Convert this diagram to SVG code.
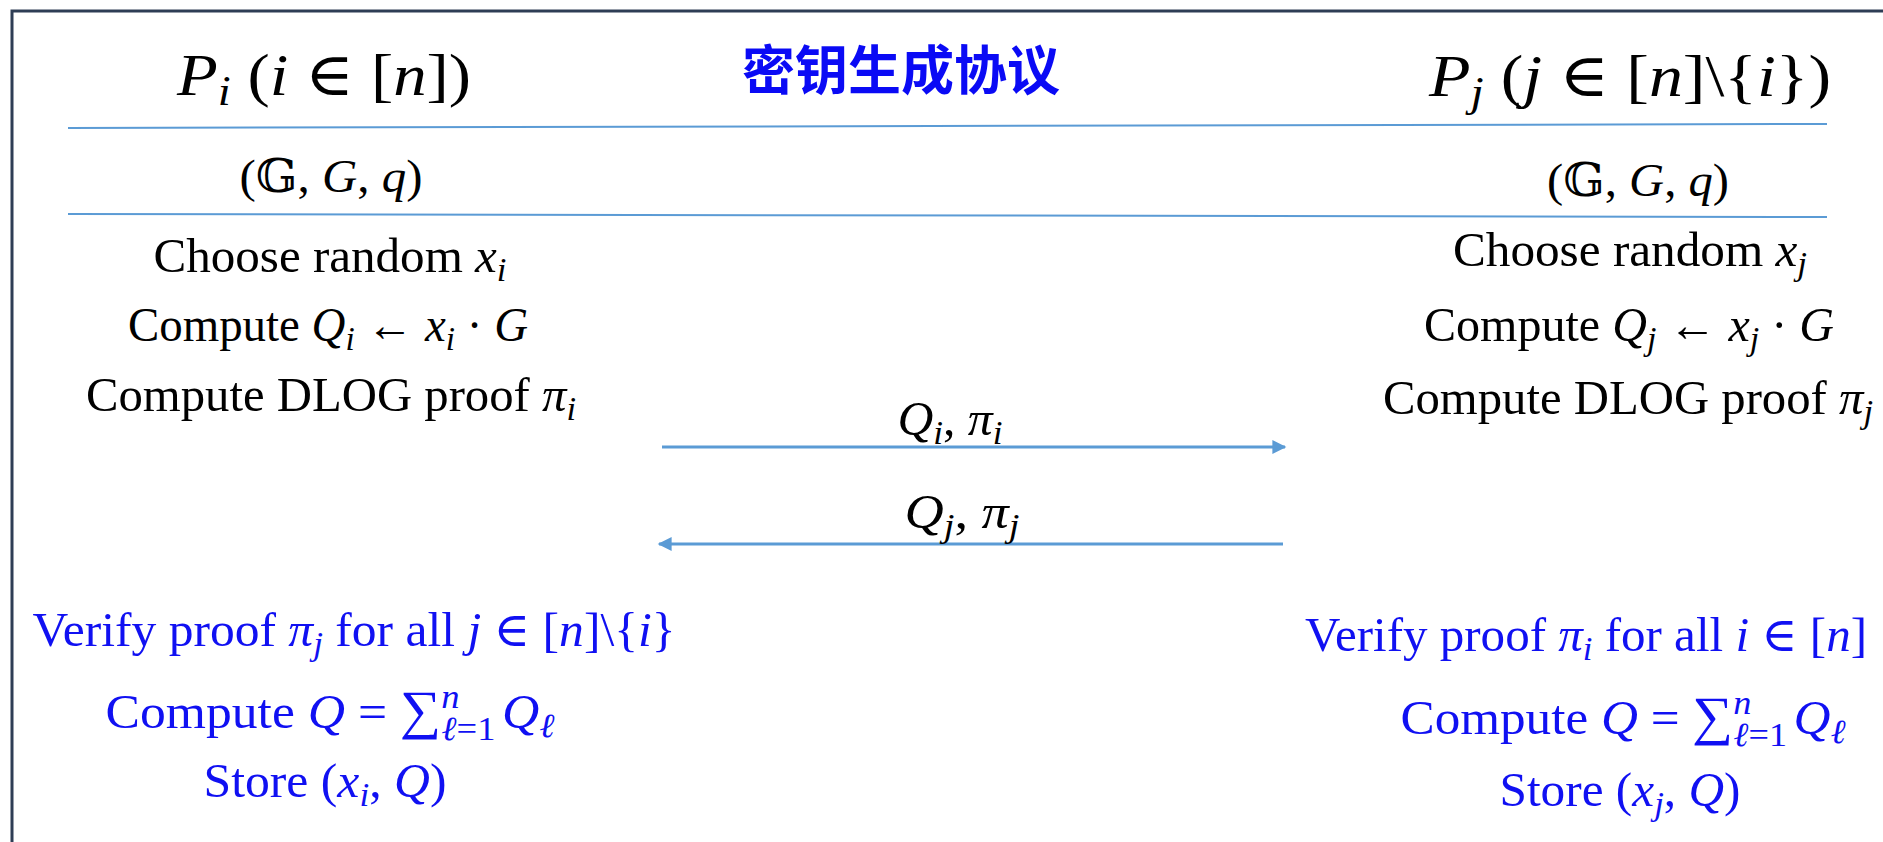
<svg xmlns="http://www.w3.org/2000/svg" width="1883" height="842" viewBox="0 0 1883 842">
<defs>
<marker id="ah" viewBox="0 0 10 10" refX="9" refY="5" markerWidth="16" markerHeight="14" orient="auto-start-reverse" markerUnits="userSpaceOnUse">
<path d="M0,0 L10,5 L0,10 Z" fill="#5b9bd5"/>
</marker>
<style>
.t{font-family:"Liberation Serif","DejaVu Serif",serif;font-size:48px;text-anchor:middle;fill:#000}
.h{font-size:60px}
.g{font-size:46px}
.b{fill:#1010f2}
.m{font-style:italic}
.s{font-size:34px}
.sep{stroke:#5b9bd5;stroke-width:2;fill:none}
.arr{stroke:#5b9bd5;stroke-width:3;fill:none}
.title{font-family:"Noto Sans CJK SC","Noto Sans CJK TC",sans-serif;font-size:53px;font-weight:700;fill:#0a0af5;text-anchor:middle}
</style>
</defs>
<rect width="1883" height="842" fill="#fff"/>
<path d="M12,842 L12,11 L1883,11" fill="none" stroke="#2e3d55" stroke-width="3"/>
<g id="separators">
<line class="sep" x1="68" y1="128" x2="1827" y2="124"/>
<line class="sep" x1="68" y1="214" x2="1827" y2="217"/>
</g>
<g id="title"><text class="title" x="901" y="90">密钥生成协议</text></g>
<g id="party-i">
<text class="t h" x="324" y="95" textLength="294" lengthAdjust="spacingAndGlyphs"><tspan class="m">P</tspan><tspan class="m" font-size="42" dy="10">i</tspan><tspan dy="-10"> (</tspan><tspan class="m">i</tspan> ∈ [<tspan class="m">n</tspan>])</text>
<text class="t g" x="331" y="192" textLength="183" lengthAdjust="spacingAndGlyphs">(𝔾, <tspan class="m">G</tspan>, <tspan class="m">q</tspan>)</text>
<text class="t" x="330" y="272" textLength="353" lengthAdjust="spacingAndGlyphs">Choose random <tspan class="m">x</tspan><tspan class="m s" dy="9">i</tspan></text>
<text class="t" x="328" y="341" textLength="400" lengthAdjust="spacingAndGlyphs">Compute <tspan class="m">Q</tspan><tspan class="m s" dy="9">i</tspan><tspan dy="-9"> ← </tspan><tspan class="m">x</tspan><tspan class="m s" dy="9">i</tspan><tspan dy="-9"> · </tspan><tspan class="m">G</tspan></text>
<text class="t" x="331" y="411" textLength="490" lengthAdjust="spacingAndGlyphs">Compute DLOG proof <tspan class="m">π</tspan><tspan class="m s" dy="9">i</tspan></text>
<text class="t b" x="354" y="646" textLength="643" lengthAdjust="spacingAndGlyphs">Verify proof <tspan class="m">π</tspan><tspan class="m s" dy="9">j</tspan><tspan dy="-9"> for all </tspan><tspan class="m">j</tspan> ∈ [<tspan class="m">n</tspan>]\{<tspan class="m">i</tspan>}</text>
<text class="t b" x="330" y="728" textLength="449" lengthAdjust="spacingAndGlyphs">Compute <tspan class="m">Q</tspan> = <tspan font-size="54">∑</tspan><tspan class="m s" dy="-20">n</tspan><tspan class="s" dx="-17" dy="32"><tspan class="m">ℓ</tspan>=1</tspan><tspan class="m" dx="6" dy="-12">Q</tspan><tspan class="m s" dy="9">ℓ</tspan></text>
<text class="t b" x="325" y="797" textLength="243" lengthAdjust="spacingAndGlyphs">Store (<tspan class="m">x</tspan><tspan class="m s" dy="9">i</tspan><tspan dy="-9">, </tspan><tspan class="m">Q</tspan>)</text>
</g>
<g id="party-j">
<text class="t h" x="1630" y="96" textLength="402" lengthAdjust="spacingAndGlyphs"><tspan class="m">P</tspan><tspan class="m" font-size="42" dy="10">j</tspan><tspan dy="-10"> (</tspan><tspan class="m">j</tspan> ∈ [<tspan class="m">n</tspan>]\{<tspan class="m">i</tspan>})</text>
<text class="t g" x="1638" y="196" textLength="182" lengthAdjust="spacingAndGlyphs">(𝔾, <tspan class="m">G</tspan>, <tspan class="m">q</tspan>)</text>
<text class="t" x="1630" y="266" textLength="354" lengthAdjust="spacingAndGlyphs">Choose random <tspan class="m">x</tspan><tspan class="m s" dy="9">j</tspan></text>
<text class="t" x="1629" y="341" textLength="410" lengthAdjust="spacingAndGlyphs">Compute <tspan class="m">Q</tspan><tspan class="m s" dy="9">j</tspan><tspan dy="-9"> ← </tspan><tspan class="m">x</tspan><tspan class="m s" dy="9">j</tspan><tspan dy="-9"> · </tspan><tspan class="m">G</tspan></text>
<text class="t" x="1628" y="414" textLength="490" lengthAdjust="spacingAndGlyphs">Compute DLOG proof <tspan class="m">π</tspan><tspan class="m s" dy="9">j</tspan></text>
<text class="t b" x="1586" y="651" textLength="562" lengthAdjust="spacingAndGlyphs">Verify proof <tspan class="m">π</tspan><tspan class="m s" dy="9">i</tspan><tspan dy="-9"> for all </tspan><tspan class="m">i</tspan> ∈ [<tspan class="m">n</tspan>]</text>
<text class="t b" x="1623" y="734" textLength="445" lengthAdjust="spacingAndGlyphs">Compute <tspan class="m">Q</tspan> = <tspan font-size="54">∑</tspan><tspan class="m s" dy="-20">n</tspan><tspan class="s" dx="-17" dy="32"><tspan class="m">ℓ</tspan>=1</tspan><tspan class="m" dx="6" dy="-12">Q</tspan><tspan class="m s" dy="9">ℓ</tspan></text>
<text class="t b" x="1620" y="806" textLength="241" lengthAdjust="spacingAndGlyphs">Store (<tspan class="m">x</tspan><tspan class="m s" dy="9">j</tspan><tspan dy="-9">, </tspan><tspan class="m">Q</tspan>)</text>
</g>
<g id="connectors">
<line class="arr" x1="662" y1="447" x2="1285" y2="447" marker-end="url(#ah)"/>
<line class="arr" x1="1283" y1="544" x2="659" y2="544" marker-end="url(#ah)"/>
<text class="t" x="950" y="435" textLength="105" lengthAdjust="spacingAndGlyphs"><tspan class="m">Q</tspan><tspan class="m s" dy="9">i</tspan><tspan dy="-9">, </tspan><tspan class="m">π</tspan><tspan class="m s" dy="9">i</tspan></text>
<text class="t" x="962" y="528" textLength="115" lengthAdjust="spacingAndGlyphs"><tspan class="m">Q</tspan><tspan class="m s" dy="9">j</tspan><tspan dy="-9">, </tspan><tspan class="m">π</tspan><tspan class="m s" dy="9">j</tspan></text>
</g>
</svg>
